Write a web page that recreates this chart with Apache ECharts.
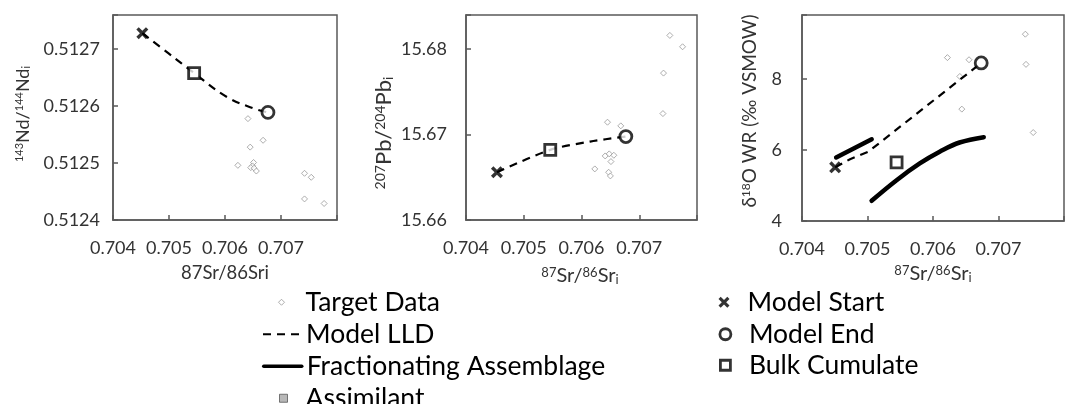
<!DOCTYPE html>
<html><head><meta charset="utf-8">
<script src="https://cdn.jsdelivr.net/npm/echarts@6/dist/echarts.min.js"></script>
<style>html,body{margin:0;padding:0;background:#fff}#c{width:1077px;height:404px}</style>
</head><body><div id="c"></div>
<script>
// ---------- DATA ----------
// shared x-axis ticks (87Sr/86Sr i)
const srTicks = [0.704, 0.705, 0.706, 0.707];
// Panel 1: 143Nd/144Nd i
const ndTicks = [0.5124, 0.5125, 0.5126, 0.5127];
const ndTargetSr = [0.70641, 0.70668, 0.70645, 0.70623, 0.70651, 0.70649, 0.70646, 0.70652, 0.70656, 0.70742, 0.70754, 0.70742, 0.70777];
const ndTargetNd = [0.512578, 0.512540, 0.512528, 0.512496, 0.512501, 0.512495, 0.512492, 0.512491, 0.512486, 0.512482, 0.512475, 0.512437, 0.512429];
const ndLldSr = [0.704524, 0.704987, 0.705449, 0.706034, 0.706510, 0.706767];
const ndLldNd = [0.512728, 0.512693, 0.512658, 0.512616, 0.512596, 0.512589];
const ndStart = [0.704524, 0.512728];
const ndEnd = [0.706767, 0.512589];
const ndCumulate = [0.705449, 0.512658];
// Panel 2: 207Pb/204Pb i
const pbTicks = [15.66, 15.67, 15.68];
const pbTargetSr = [0.70753, 0.70775, 0.70742, 0.70741, 0.70645, 0.70668, 0.70641, 0.70648, 0.70656, 0.70651, 0.70623, 0.70647, 0.70650];
const pbTargetPb = [15.68161, 15.68028, 15.67720, 15.67246, 15.67145, 15.67102, 15.66750, 15.66774, 15.66758, 15.66684, 15.66598, 15.66559, 15.66516];
const pbLldSr = [0.704536, 0.705459, 0.706150, 0.706768];
const pbLldPb = [15.66559, 15.66821, 15.66918, 15.66977];
const pbStart = [0.704536, 15.66559];
const pbEnd = [0.706768, 15.66977];
const pbCumulate = [0.705459, 15.66821];
// Panel 3: d18O WR
const oTicks = [4, 6, 8];
const oTargetSr = [0.70741, 0.70742, 0.70753, 0.70622, 0.70655, 0.70641, 0.70644];
const oTargetO = [9.26, 8.41, 6.49, 8.60, 8.54, 8.07, 7.15];
const oLldSr = [0.704506, 0.704733, 0.705012, 0.706736];
const oLldO = [5.51, 5.74, 5.95, 8.45];
const oFracASr = [0.704521, 0.705064];
const oFracAO = [5.79, 6.30];
const oFracBSr = [0.705063, 0.705444, 0.705798, 0.706102, 0.706406, 0.706775];
const oFracBO = [4.57, 5.15, 5.62, 5.95, 6.21, 6.36];
const oStart = [0.704506, 5.51];
const oEnd = [0.706736, 8.45];
const oCumulate = [0.705444, 5.65];
const assimilantData = [];

// ---------- STYLE ----------
const FONT = 'Lato, "DejaVu Sans", sans-serif';
const AX = '#595959';
const TXT = '#333';
const zip = (a, b) => a.map((v, i) => [v, b[i]]);
const XPATH = 'path://M0,2L2,0L5,3L8,0L10,2L7,5L10,8L8,10L5,7L2,10L0,8L3,5Z';
const DIAMOND = 'path://M5,0L10,5L5,10L0,5Z';
const SQUARE = 'path://M0,0L10,0L10,10L0,10Z';
const CIRCLE = 'path://M0,5A5,5,0,1,1,10,5A5,5,0,1,1,0,5Z';

const near = (v, ticks) => ticks.some(t => Math.abs(v - t) < 1e-9);

function xAxis(i) {
  return {
    type: 'value', gridIndex: i, min: 0.704, max: 0.708, interval: 0.001,
    splitLine: {show: false},
    axisLine: {lineStyle: {color: AX, width: 1.5}},
    axisTick: {inside: true, length: 5, lineStyle: {color: AX, width: 1.5}},
    axisLabel: {fontFamily: FONT, fontSize: 18, color: TXT, margin: 19,
      formatter: v => near(v, srTicks) ? v.toFixed(3) : ''}
  };
}
function yAxis(i, min, max, interval, ticks, dec, margin) {
  return {
    type: 'value', gridIndex: i, min: min, max: max, interval: interval,
    splitLine: {show: false},
    axisLine: {lineStyle: {color: AX, width: 1.5}},
    axisTick: {inside: true, length: 5, lineStyle: {color: AX, width: 1.5}},
    axisLabel: {fontFamily: FONT, fontSize: 18, color: TXT, margin: margin,
      formatter: v => near(v, ticks) ? v.toFixed(dec) : ''}
  };
}

function panelSeries(i, target, lld, start, end, cum, smooth) {
  return [
    {name: 'Target Data', type: 'scatter', xAxisIndex: i, yAxisIndex: i, data: target,
      symbol: 'diamond', symbolSize: 6, z: 2,
      itemStyle: {color: '#fff', borderColor: '#999', borderWidth: 1}},
    {name: 'Model LLD', type: 'line', xAxisIndex: i, yAxisIndex: i, data: lld,
      symbol: 'none', smooth: smooth, z: 3, itemStyle: {color: '#000'},
      lineStyle: {color: '#000', width: 2.2, type: [8, 6]}},
    {name: 'Model Start', type: 'scatter', xAxisIndex: i, yAxisIndex: i, data: [start],
      symbol: XPATH, symbolSize: 12, z: 5, itemStyle: {color: '#000'}},
    {name: 'Model End', type: 'scatter', xAxisIndex: i, yAxisIndex: i, data: [end],
      symbol: 'circle', symbolSize: 12, z: 5,
      itemStyle: {color: '#fff', borderColor: '#000', borderWidth: 2.8}},
    {name: 'Bulk Cumulate', type: 'scatter', xAxisIndex: i, yAxisIndex: i, data: [cum],
      symbol: 'rect', symbolSize: 11, z: 5,
      itemStyle: {color: '#fff', borderColor: '#000', borderWidth: 2.8}}
  ];
}

const series = [
  ...panelSeries(0, zip(ndTargetSr, ndTargetNd), zip(ndLldSr, ndLldNd), ndStart, ndEnd, ndCumulate, 0.4),
  ...panelSeries(1, zip(pbTargetSr, pbTargetPb), zip(pbLldSr, pbLldPb), pbStart, pbEnd, pbCumulate, 0.3),
  ...panelSeries(2, zip(oTargetSr, oTargetO), zip(oLldSr, oLldO), oStart, oEnd, oCumulate, false),
  {name: 'Fractionating Assemblage', type: 'line', xAxisIndex: 2, yAxisIndex: 2,
    data: zip(oFracASr, oFracAO), symbol: 'none', z: 4, itemStyle: {color: '#000'},
    lineStyle: {color: '#000', width: 4.5, cap: 'round'}},
  {name: 'Fractionating Assemblage', type: 'line', xAxisIndex: 2, yAxisIndex: 2,
    data: zip(oFracBSr, oFracBO), symbol: 'none', smooth: 0.4, z: 4, itemStyle: {color: '#000'},
    lineStyle: {color: '#000', width: 4.5, cap: 'round'}},
  {name: 'Assimilant', type: 'scatter', xAxisIndex: 2, yAxisIndex: 2, data: assimilantData,
    symbol: 'rect', symbolSize: 8,
    itemStyle: {color: '#a6a6a6', borderColor: '#595959', borderWidth: 1}}
];

const LEG_FS = 26.5;
function legend(name, left, cy, w, h, extra) {
  return Object.assign({
    data: [name], left: left, top: cy - LEG_FS / 2, itemWidth: w, itemHeight: h,
    selectedMode: false, symbolKeepAspect: true, padding: 0,
    textStyle: {fontFamily: FONT, fontSize: LEG_FS, color: '#000'}
  }, extra || {});
}

// icon-only legends: 'left' is the left edge of the drawn icon (bounding box), text starts at centre + w/2 + 5
const legends = [
  legend('Target Data', 278, 302, 38, 6, {data: [{name: 'Target Data', icon: DIAMOND}], itemStyle: {borderWidth: 1}}),
  legend('Model LLD', 262, 334, 38, 14, {itemStyle: {opacity: 0}, lineStyle: {width: 2, opacity: 1}}),
  legend('Fractionating Assemblage', 262, 366, 38, 14, {itemStyle: {opacity: 0}, lineStyle: {width: 3.5, opacity: 1}}),
  legend('Assimilant', 279, 398, 34, 8, {data: [{name: 'Assimilant', icon: SQUARE}], itemStyle: {borderWidth: 1}}),
  legend('Model Start', 718.5, 302, 37, 11, {data: [{name: 'Model Start', icon: XPATH}], itemStyle: {borderWidth: 0}}),
  legend('Model End', 718.5, 334, 37, 11, {data: [{name: 'Model End', icon: CIRCLE}], itemStyle: {borderWidth: 2.8}}),
  legend('Bulk Cumulate', 719, 365, 37, 10, {data: [{name: 'Bulk Cumulate', icon: SQUARE}], itemStyle: {borderWidth: 2.8}})
];

const rich = (main, sup) => ({
  m: {fontFamily: FONT, fontSize: main, color: TXT, lineHeight: main},
  sup: {fontFamily: FONT, fontSize: sup, color: TXT, verticalAlign: 'top', lineHeight: sup},
  sub: {fontFamily: FONT, fontSize: sup, color: TXT, verticalAlign: 'bottom', lineHeight: sup}
});
function title(x, y, text, main, sup, rot) {
  return {type: 'text', x: x, y: y, rotation: rot ? Math.PI / 2 : 0, z: 10,
    style: {text: text, rich: rich(main, sup), align: 'center', verticalAlign: 'middle',
      fontFamily: FONT, fontSize: main, fill: TXT}};
}

const option = {
  animation: false,
  backgroundColor: '#fff',
  grid: [
    {left: 113, top: 15, width: 224, height: 205, show: true, borderColor: AX, borderWidth: 1.5},
    {left: 466, top: 15, width: 231, height: 205, show: true, borderColor: AX, borderWidth: 1.5},
    {left: 802, top: 15, width: 262, height: 206, show: true, borderColor: AX, borderWidth: 1.5}
  ],
  xAxis: [xAxis(0), xAxis(1), xAxis(2)],
  yAxis: [
    yAxis(0, 0.5124, 0.51276, 0.0001, ndTicks, 4, 13),
    yAxis(1, 15.66, 15.684, 0.01, pbTicks, 2, 19),
    yAxis(2, 4, 9.8, 2, oTicks, 0, 20)
  ],
  legend: legends,
  series: series,
  graphic: [
    title(225, 273, '{m|87Sr/86Sri}', 18.5, 12, false),
    title(580, 276, '{sup|87}{m|Sr/}{sup|86}{m|Sr}{sub|i}', 20, 13, false),
    title(933, 274, '{sup|87}{m|Sr/}{sup|86}{m|Sr}{sub|i}', 20, 13, false),
    title(23, 114, '{sup|143}{m|Nd/}{sup|144}{m|Nd}{sub|i}', 18, 11, true),
    title(384, 133, '{sup|207}{m|Pb/}{sup|204}{m|Pb}{sub|i}', 22, 14, true),
    title(750, 111, '{m|δ}{sup|18}{m|O WR (‰ VSMOW)}', 19, 12, true)
  ]
};
const chart = echarts.init(document.getElementById('c'));
chart.setOption(option);
</script>
</body></html>
